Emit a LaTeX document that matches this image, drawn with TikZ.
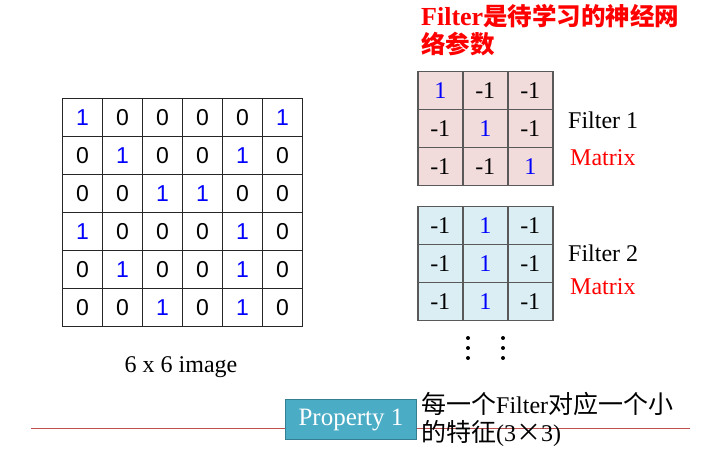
\documentclass[tikz,border=0pt]{standalone}
\usepackage{fontspec}
\setmainfont{Liberation Serif}
\setsansfont{Liberation Sans}
\newfontfamily\cjk{Noto Sans CJK SC}
\usetikzlibrary{matrix}

\definecolor{pinkcell}{HTML}{F2DCDB}
\definecolor{bluecell}{HTML}{DBEEF4}
\definecolor{propfill}{HTML}{4BACC6}
\definecolor{propline}{HTML}{357D91}
\definecolor{rulered}{HTML}{C0504D}

\begin{document}
\begin{tikzpicture}[x=1pt, y=-1pt,
  cell/.style = {draw=black!85, line width=1pt, minimum width=40pt,
    minimum height=38pt, inner sep=0pt,
    font=\sffamily\fontsize{23}{23}\selectfont},
  fcell/.style = {draw=black!65, line width=1.5pt, minimum width=45pt,
    minimum height=38pt, inner sep=0pt,
    font=\fontsize{24}{24}\selectfont},
  one/.style = {text=blue},
  tag/.style = {anchor=west, inner sep=0pt, font=\fontsize{24}{24}\selectfont}]

  \useasboundingbox (0,0) rectangle (724,449);

  % the 6 x 6 image
  \matrix (img) [matrix of nodes, nodes={cell}, anchor=north west,
    inner sep=0pt, outer sep=0pt, column sep=-1pt, row sep=-1pt] at (62,98) {
    |[one]| 1 & 0 & 0 & 0 & 0 & |[one]| 1 \\
    0 & |[one]| 1 & 0 & 0 & |[one]| 1 & 0 \\
    0 & 0 & |[one]| 1 & |[one]| 1 & 0 & 0 \\
    |[one]| 1 & 0 & 0 & 0 & |[one]| 1 & 0 \\
    0 & |[one]| 1 & 0 & 0 & |[one]| 1 & 0 \\
    0 & 0 & |[one]| 1 & 0 & |[one]| 1 & 0 \\
  };
  \node (imgname) [font=\fontsize{24}{24}\selectfont] at (181,367) {6 x 6 image};

  \node (title) [anchor=north west, align=left, inner sep=0pt, text=red,
    font=\bfseries\fontsize{26}{28}\selectfont] at (421,4)
    {Filter{\cjk\fontsize{24.5}{28}\selectfont 是待学习的神经网}\\{\cjk\fontsize{24.5}{28}\selectfont 络参数}};

  % filter 1
  \matrix (fa) [matrix of nodes, nodes={fcell, fill=pinkcell}, anchor=north west,
    inner sep=0pt, outer sep=0pt, column sep=-1.5pt, row sep=-1.5pt] at (417,71) {
    |[one]| 1 & -1 & -1 \\
    -1 & |[one]| 1 & -1 \\
    -1 & -1 & |[one]| 1 \\
  };
  \node (faname) [tag] at (568,120) {Filter 1};
  \node (famat) [tag, text=red] at (570,158) {Matrix};

  % filter 2
  \matrix (fb) [matrix of nodes, nodes={fcell, fill=bluecell}, anchor=north west,
    inner sep=0pt, outer sep=0pt, column sep=-1.5pt, row sep=-1.5pt] at (417,206) {
    -1 & |[one]| 1 & -1 \\
    -1 & |[one]| 1 & -1 \\
    -1 & |[one]| 1 & -1 \\
  };
  \node (fbname) [tag] at (568,253) {Filter 2};
  \node (fbmat) [tag, text=red] at (570,287) {Matrix};

  \foreach \x in {468,503}
    \foreach \y in {338,348,358}
      \fill (\x,\y) circle (2pt);

  % property
  \draw [rulered, line width=1pt] (31,429) -- (690,429);
  \node (prop) [draw=propline, fill=propfill, line width=1.5pt,
    minimum width=131pt, minimum height=40pt, text=white,
    font=\fontsize{25}{25}\selectfont] at (351,419.5) {Property 1};
  \node (note) [anchor=west, align=left, inner sep=0pt,
    font=\fontsize{24}{28}\selectfont] at (421,419)
    {{\cjk\fontsize{25}{28}\selectfont 每一个}Filter{\cjk\fontsize{25}{28}\selectfont 对应一个小}\\{\cjk\fontsize{25}{28}\selectfont 的特征}(3{\cjk\fontsize{25}{28}\selectfont ×}3)};
\end{tikzpicture}
\end{document}
